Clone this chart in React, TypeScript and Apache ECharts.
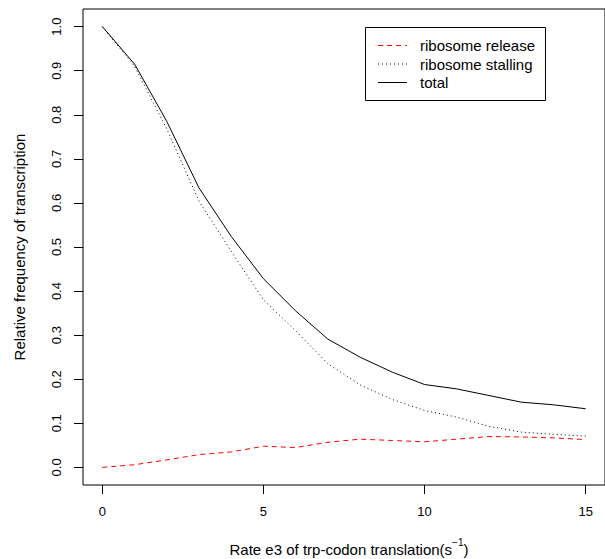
import React, { useEffect, useRef } from "react";
import * as echarts from "echarts";

const rates = [0, 1, 2, 3, 4, 5, 6, 7, 8, 9, 10, 11, 12, 13, 14, 15];
const release = [0.0, 0.006, 0.017, 0.029, 0.035, 0.048, 0.045, 0.057, 0.064, 0.061, 0.058, 0.064, 0.07, 0.069, 0.067, 0.063];
const stalling = [1.0, 0.91, 0.768, 0.604, 0.49, 0.38, 0.31, 0.235, 0.187, 0.154, 0.129, 0.114, 0.093, 0.08, 0.075, 0.071];
const total = [1.0, 0.915, 0.785, 0.634, 0.524, 0.428, 0.355, 0.291, 0.25, 0.216, 0.188, 0.178, 0.163, 0.148, 0.142, 0.133];
const xTicks = [0, 5, 10, 15];
const yTicks = [0, 0.1, 0.2, 0.3, 0.4, 0.5, 0.6, 0.7, 0.8, 0.9, 1.0];
const legendNames = ["ribosome release", "ribosome stalling", "total"];

const FONT = "Liberation Sans, Arial, Helvetica, sans-serif";

export default function App() {
  const ref = useRef<HTMLDivElement>(null);
  useEffect(() => {
    if (!ref.current) return;
    const chart = echarts.init(ref.current, null, { renderer: "svg" });
    const pairs = (ys: number[]) => rates.map((x, i) => [x, ys[i]]);
    const legendY = [45.5, 64, 82.5];
    const legendStyles = [
      { stroke: "#ff0000", lineDash: [5, 4] },
      { stroke: "#000", lineDash: [1, 3] },
      { stroke: "#000", lineDash: null as any },
    ];
    chart.setOption({
      animation: false,
      backgroundColor: "#fff",
      grid: {
        left: 83,
        top: 9,
        width: 532,
        height: 476,
        show: true,
        borderColor: "#000",
        borderWidth: 1,
        backgroundColor: "transparent",
      },
      xAxis: {
        type: "value",
        min: -0.6,
        max: 15.6,
        axisLine: { show: false, onZero: false },
        splitLine: { show: false },
        axisTick: {
          show: true,
          inside: false,
          length: 9,
          customValues: xTicks,
          lineStyle: { color: "#000", width: 1 },
        },
        axisLabel: {
          customValues: xTicks,
          margin: 20,
          fontSize: 13,
          fontFamily: FONT,
          color: "#000",
        },
      },
      yAxis: {
        type: "value",
        min: -0.04,
        max: 1.04,
        axisLine: { show: false, onZero: false },
        splitLine: { show: false },
        axisTick: {
          show: true,
          inside: false,
          length: 9,
          customValues: yTicks,
          lineStyle: { color: "#000", width: 1 },
        },
        axisLabel: {
          customValues: yTicks,
          rotate: 90,
          margin: 20,
          fontSize: 13,
          fontFamily: FONT,
          color: "#000",
          formatter: (v: number) => v.toFixed(1),
        },
      },
      series: [
        {
          name: legendNames[0],
          type: "line",
          data: pairs(release),
          symbol: "none",
          lineStyle: { color: "#ff0000", width: 1, type: [5, 4] },
        },
        {
          name: legendNames[1],
          type: "line",
          data: pairs(stalling),
          symbol: "none",
          lineStyle: { color: "#000", width: 1, type: [1, 3] },
        },
        {
          name: legendNames[2],
          type: "line",
          data: pairs(total),
          symbol: "none",
          lineStyle: { color: "#000", width: 1, type: "solid" },
        },
      ],
      graphic: [
        {
          type: "rect",
          shape: { x: 365.5, y: 27.5, width: 180, height: 73 },
          style: { fill: "#fff", stroke: "#000", lineWidth: 1 },
          z: 10,
        },
        ...legendNames.map((n, i) => ({
          type: "line",
          shape: { x1: 378, y1: legendY[i], x2: 407, y2: legendY[i] },
          style: { ...legendStyles[i], lineWidth: 1 },
          z: 11,
        })),
        ...legendNames.map((n, i) => ({
          type: "text",
          x: 420,
          y: legendY[i],
          style: {
            text: n,
            fontSize: 15,
            fontFamily: FONT,
            fill: "#000",
            verticalAlign: "middle",
            align: "left",
          },
          z: 11,
        })),
        {
          type: "text",
          x: 19,
          y: 247,
          rotation: Math.PI / 2,
          style: {
            text: "Relative frequency of transcription",
            fontSize: 15,
            fontFamily: FONT,
            fill: "#000",
            align: "center",
            verticalAlign: "middle",
          },
        },
        {
          type: "text",
          x: 349,
          y: 549,
          style: {
            text: "{a|Rate e3 of trp-codon translation(s}{b|−1}{a|)}",
            fontFamily: FONT,
            fill: "#000",
            align: "center",
            verticalAlign: "middle",
            rich: {
              a: { fontSize: 15, fontFamily: FONT, lineHeight: 24, verticalAlign: "middle" },
              b: { fontSize: 10, fontFamily: FONT, verticalAlign: "top" },
            },
          },
        },
      ],
    });
    return () => chart.dispose();
  }, []);
  return (
    <div
      ref={ref}
      style={{ position: "fixed", left: 0, top: 0, width: 605, height: 559, background: "#fff" }}
    />
  );
}
